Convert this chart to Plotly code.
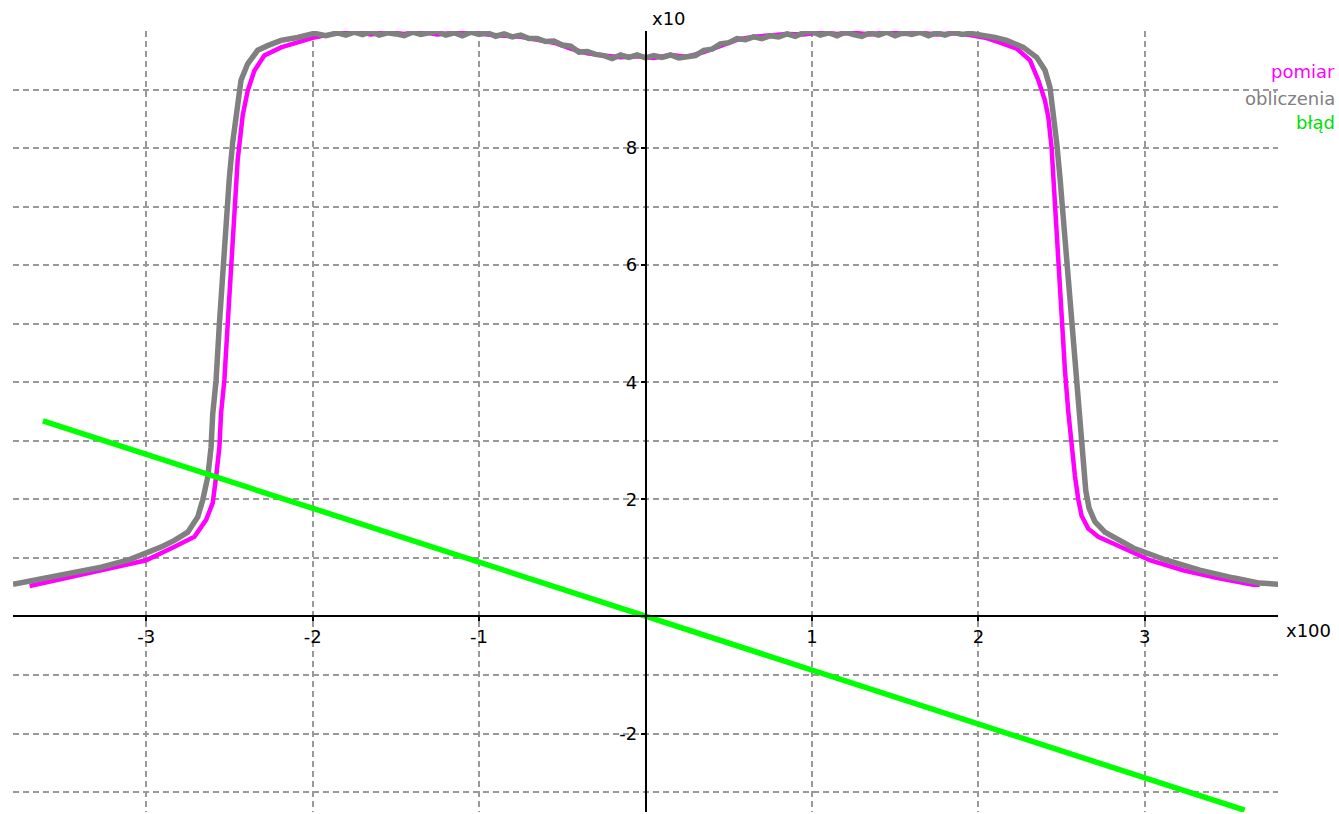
import plotly.graph_objects as go

# ---- data (x in units of 100, y in units of 10) ----
obl_x = [-3.80, -3.67, -3.47, -3.27, -3.10, -3.00, -2.90, -2.83, -2.75, -2.69, -2.66, -2.63,
         -2.61, -2.60, -2.58, -2.56, -2.54, -2.52, -2.50, -2.48, -2.46, -2.43, -2.39, -2.33,
         -2.27, -2.19, -2.09, -1.99, -1.92,
         -1.85, -1.80, -1.75, -1.70, -1.65, -1.60, -1.55, -1.50, -1.45, -1.40, -1.35, -1.30,
         -1.25, -1.20, -1.15, -1.10, -1.05, -1.00, -0.95, -0.90, -0.85, -0.80, -0.75, -0.70,
         -0.65, -0.60, -0.55, -0.50, -0.45, -0.40, -0.35, -0.30, -0.25, -0.20, -0.15, -0.10,
         -0.05, 0.00, 0.05, 0.10, 0.15, 0.20, 0.25, 0.30, 0.35, 0.40, 0.45, 0.50, 0.55, 0.60,
         0.65, 0.70, 0.75, 0.80, 0.85, 0.90, 0.95, 1.00, 1.05, 1.10, 1.15, 1.20, 1.25, 1.30,
         1.35, 1.40, 1.45, 1.50, 1.55, 1.60, 1.65, 1.70, 1.75, 1.80, 1.85, 1.90, 1.95,
         2.02, 2.10, 2.17, 2.27, 2.35, 2.40, 2.43, 2.45, 2.47, 2.49, 2.51, 2.53, 2.56, 2.58,
         2.60, 2.61, 2.63, 2.645, 2.665, 2.70, 2.76, 2.84, 2.93, 3.13, 3.33, 3.53, 3.69, 3.81]
obl_y = [0.55, 0.62, 0.71, 0.84, 0.97, 1.08, 1.20, 1.30, 1.44, 1.70, 1.99, 2.38,
         2.89, 3.46, 4.03, 5.00, 5.90, 6.80, 7.50, 8.10, 8.56, 9.16, 9.44, 9.67,
         9.75, 9.84, 9.89, 9.96, 9.92,
         9.97, 9.93, 9.98, 9.94, 9.99, 9.93, 9.97, 9.95, 9.92, 9.98, 9.94, 9.97,
         9.99, 9.93, 9.97, 9.92, 9.98, 9.94, 9.97, 9.91, 9.95, 9.90, 9.93, 9.87,
         9.87, 9.82, 9.83, 9.76, 9.74, 9.64, 9.65, 9.60, 9.58, 9.53, 9.59, 9.55,
         9.59, 9.54, 9.58, 9.55, 9.59, 9.54, 9.57, 9.58, 9.67, 9.69, 9.78, 9.80, 9.87, 9.85,
         9.90, 9.87, 9.92, 9.90, 9.95, 9.91, 9.97, 9.99, 9.93, 9.97, 9.92, 9.98, 9.94, 9.91,
         9.97, 9.93, 9.98, 9.92, 9.97, 9.94, 9.98, 9.92, 9.97, 9.93, 9.98, 9.94, 9.96,
         9.93, 9.89, 9.84, 9.72, 9.55, 9.33, 9.04, 8.64, 8.10, 7.50, 6.80, 6.00, 5.00, 4.30,
         3.60, 3.20, 2.60, 2.15, 1.85, 1.62, 1.44, 1.30, 1.17, 0.96, 0.79, 0.66, 0.57, 0.55]

pom_x = [-3.70, -3.47, -3.27, -3.00, -2.83, -2.71, -2.64, -2.60, -2.58, -2.56, -2.55, -2.53,
         -2.51, -2.49, -2.47, -2.45, -2.42, -2.39, -2.35, -2.29, -2.19, -2.09, -1.99, -1.92,
         -1.85, -1.75, -1.65, -1.55, -1.45, -1.35, -1.25, -1.15, -1.05, -0.95, -0.85, -0.75,
         -0.65, -0.55, -0.45, -0.35, -0.25, -0.15, -0.05, 0.05, 0.15, 0.25, 0.35, 0.45, 0.55,
         0.65, 0.75, 0.85, 0.95, 1.05, 1.15, 1.25, 1.35, 1.45, 1.55, 1.65, 1.75, 1.85, 1.95,
         2.05, 2.13, 2.23, 2.31, 2.36, 2.40, 2.42, 2.44, 2.46, 2.48, 2.50, 2.52, 2.54, 2.56,
         2.58, 2.60, 2.62, 2.66, 2.72, 2.83, 3.03, 3.23, 3.43, 3.65, 3.69]
pom_y = [0.52, 0.66, 0.78, 0.96, 1.19, 1.36, 1.65, 1.94, 2.38, 2.89, 3.47, 4.04,
         5.00, 6.00, 7.00, 7.80, 8.56, 8.98, 9.32, 9.58, 9.72, 9.81, 9.89, 9.93,
         9.96, 9.99, 9.94, 9.98, 9.95, 9.99, 9.94, 9.97, 9.98, 9.94, 9.92, 9.90,
         9.85, 9.80, 9.70, 9.62, 9.58, 9.55, 9.57, 9.54, 9.59, 9.56, 9.64, 9.75, 9.85,
         9.90, 9.93, 9.95, 9.94, 9.98, 9.95, 9.97, 9.94, 9.98, 9.95, 9.97, 9.94, 9.96, 9.93,
         9.88, 9.80, 9.70, 9.50, 9.16, 8.81, 8.53, 8.00, 7.00, 6.00, 5.00, 4.20, 3.50, 2.90,
         2.40, 2.00, 1.72, 1.50, 1.36, 1.22, 0.96, 0.79, 0.66, 0.54, 0.54]

blad_x = [-3.62, 3.60]
blad_y = [3.34, -3.31]

x_ticks = [-3, -2, -1, 1, 2, 3]
y_ticks = [-2, 2, 4, 6, 8]
y_minor = [-3, -1, 1, 3, 5, 7, 9]

x_range = [-3.8, 3.8]
y_range = [-3.34, 10.0]

fig = go.Figure()
fig.add_trace(go.Scatter(x=pom_x, y=pom_y, mode="lines", name="pomiar",
                         line=dict(color="#ff00ff", width=4.5)))
fig.add_trace(go.Scatter(x=obl_x, y=obl_y, mode="lines", name="obliczenia",
                         line=dict(color="#808080", width=5.5)))
fig.add_trace(go.Scatter(x=blad_x, y=blad_y, mode="lines", name="błąd",
                         line=dict(color="#00ff00", width=5.5)))

grid = dict(showgrid=True, gridcolor="#999999", gridwidth=1.6, griddash="6px,4px")
y0_pos = (0 - y_range[0]) / (y_range[1] - y_range[0])

fig.update_layout(
    width=1339, height=814,
    margin=dict(l=13, r=61, t=31, b=2),
    plot_bgcolor="white", paper_bgcolor="white",
    showlegend=False,
    font=dict(family="DejaVu Sans", size=18, color="black"),
    xaxis=dict(range=x_range, anchor="free", position=y0_pos, showline=True,
               linecolor="black", linewidth=1.5, ticks="outside", ticklen=4,
               tickcolor="black", tickwidth=1.5, tickvals=x_ticks,
               ticktext=[str(v) for v in x_ticks], zeroline=False, **grid),
    yaxis=dict(range=y_range, anchor="free", position=0.5, showline=True,
               linecolor="black", linewidth=1.5, ticks="outside", ticklen=4,
               tickcolor="black", tickwidth=1.5, tickvals=y_ticks,
               ticktext=[str(v) for v in y_ticks], zeroline=False,
               minor=dict(tickvals=y_minor, ticks="", **grid), **grid),
)

annos = [
    dict(text="x10", x=0, xref="x", y=1, yref="paper", xanchor="left", yanchor="middle",
         xshift=4, yshift=13, showarrow=False, font=dict(size=18, color="black")),
    dict(text="x100", x=1, xref="paper", y=0, yref="y", xanchor="left", yanchor="middle",
         xshift=6, yshift=-14, showarrow=False, font=dict(size=18, color="black")),
]
legend_items = [("pomiar", "#ff00ff", 72), ("obliczenia", "#808080", 99), ("błąd", "#00e000", 123)]
for txt, col, py in legend_items:
    annos.append(dict(text=txt, x=1, xref="paper", y=(812 - py) / 781, yref="paper",
                      xanchor="right", yanchor="middle", xshift=59, showarrow=False,
                      font=dict(size=18, color=col)))
fig.update_layout(annotations=annos)

fig.write_html("out.html")
